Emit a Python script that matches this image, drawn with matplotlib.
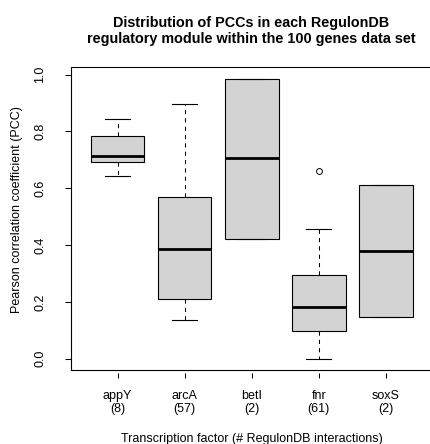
import matplotlib
matplotlib.use("Agg")
import matplotlib.pyplot as plt
from matplotlib.patches import Rectangle

plt.rcParams['font.family'] = ['Liberation Sans', 'DejaVu Sans']

# ---- data ----
factors = ["appY", "arcA", "betI", "fnr", "soxS"]
counts = [8, 57, 2, 61, 2]
whis_lo = [0.644, 0.137, 0.4225, 0.000, 0.146]
q1s     = [0.693, 0.210, 0.4225, 0.099, 0.146]
medians = [0.714, 0.387, 0.705, 0.181, 0.380]
q3s     = [0.783, 0.569, 0.986, 0.295, 0.611]
whis_hi = [0.844, 0.897, 0.986, 0.457, 0.611]
fliers  = [[], [], [], [0.661], []]
yticks = [0.0, 0.2, 0.4, 0.6, 0.8, 1.0]

title_lines = ["Distribution of PCCs in each RegulonDB",
               "regulatory module within the 100 genes data set"]
xlabel = "Transcription factor (# RegulonDB interactions)"
ylabel = "Pearson correlation coefficient (PCC)"

W, H = 430, 444
fig = plt.figure(figsize=(W / 100, H / 100), dpi=100)
L, R, T, B = 70.7, 432.7, 67.3, 370.0
ax = fig.add_axes([L / W, 1 - B / H, (R - L) / W, (B - T) / H])

stats = []
for i, f in enumerate(factors):
    stats.append(dict(med=medians[i], q1=q1s[i], q3=q3s[i],
                      whislo=whis_lo[i], whishi=whis_hi[i],
                      fliers=fliers[i], label=f"{f}\n({counts[i]})"))

positions = list(range(1, len(factors) + 1))
ax.bxp(stats, positions=positions, widths=0.8, patch_artist=True,
       capwidths=0.38,
       boxprops=dict(facecolor="#d3d3d3", edgecolor="black", linewidth=0.8),
       medianprops=dict(color="black", linewidth=2.0, solid_capstyle="butt"),
       whiskerprops=dict(color="black", linewidth=0.75, linestyle=(0, (4, 4))),
       capprops=dict(color="black", linewidth=0.8),
       flierprops=dict(marker="o", markerfacecolor="none", markeredgecolor="black",
                       markersize=4.2, markeredgewidth=0.7))

ax.set_xlim(0.3, 5.7)
ax.set_ylim(-0.0394, 1.0258)
ax.set_yticks(yticks)
ax.set_yticklabels([f"{v:.1f}" for v in yticks], rotation=90, va="center", ha="center")

for s in ax.spines.values():
    s.set_visible(False)
ax.spines['bottom'].set_visible(True)
ax.spines['bottom'].set_color('none')
ax.spines['bottom'].set_position(('outward', 2.2))
ax.add_patch(Rectangle((0, 0), 1, 1, transform=ax.transAxes, fill=False,
                       edgecolor="black", linewidth=0.8, clip_on=False, zorder=5))

ax.tick_params(axis='y', direction='out', length=4.3, width=0.75, pad=0,
               labelsize=9, colors='black')
ax.tick_params(axis='x', direction='out', length=3.6, width=0.75, pad=8.5,
               labelsize=9, colors='black')
for lab in ax.get_yticklabels():
    lab.set_x(-(L - 40) / (R - L))
    lab.set_transform(ax.get_yaxis_transform())
for lab in ax.get_xticklabels():
    lab.set_linespacing(1.1)

fig.text(17 / W, 1 - 210 / H, ylabel, rotation=90, ha='center', va='center', fontsize=9)
fig.text(251.7 / W, 1 - 442 / H, xlabel, ha='center', va='baseline', fontsize=9)
for yb, line in zip((27.3, 43.3), title_lines):
    fig.text(251 / W, 1 - yb / H, line, ha='center', va='baseline', fontsize=10.4,
             fontweight='bold')

fig.savefig("out.png", dpi=100)
